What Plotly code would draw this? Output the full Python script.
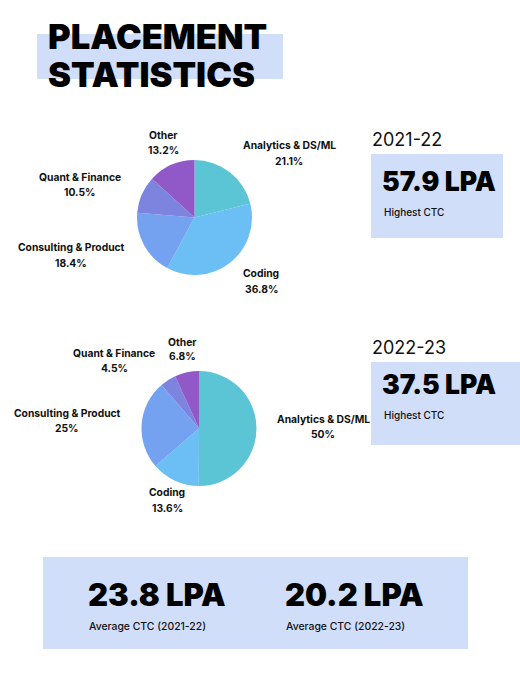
import plotly.graph_objects as go

W, H = 520, 700

# ---------------- data ----------------
categories = ["Analytics & DS/ML", "Coding", "Consulting & Product", "Quant & Finance", "Other"]
share_2021_22 = [21.1, 36.8, 18.4, 10.5, 13.2]
share_2022_23 = [50, 13.6, 25, 4.5, 6.8]
years = ["2021-22", "2022-23"]
highest_ctc = [57.9, 37.5]
average_ctc = [23.8, 20.2]
title_lines = ["PLACEMENT", "STATISTICS"]

# ---------------- style ----------------
slice_colors = ["#5bc5d6", "#6bbff5", "#74a2f0", "#7c84df", "#9159c7"]
box_color = "#d1defa"
FONT = "Inter, 'Open Sans', sans-serif"


def fx(x):
    return x / W


def fy(y):
    return 1 - y / H


fig = go.Figure()

# pie geometry (pixel centre, radius)
pies = [
    dict(values=share_2021_22, cx=194.5, cy=217.5, r=57.5,
         label_pos=[(289, 153), (261, 281), (71, 255), (80, 184), (163, 143)]),
    dict(values=share_2022_23, cx=199, cy=428.5, r=57.5,
         label_pos=[(323, 427), (167, 500), (67, 421), (114, 360), (182, 349)]),
]

annotations = []
shapes = []

for p in pies:
    fig.add_trace(go.Pie(
        labels=categories,
        values=p["values"],
        sort=False,
        direction="clockwise",
        rotation=0,
        textinfo="none",
        marker=dict(colors=slice_colors, line=dict(width=0)),
        domain=dict(x=[fx(p["cx"] - p["r"]), fx(p["cx"] + p["r"])],
                    y=[fy(p["cy"] + p["r"]), fy(p["cy"] - p["r"])]),
        showlegend=False,
        hovertemplate="%{label}: %{value}%<extra></extra>",
    ))
    for cat, val, (lx, ly) in zip(categories, p["values"], p["label_pos"]):
        for txt, dy in ((cat, -7.5), (f"{val:g}%", 7.5)):
            annotations.append(dict(
                x=fx(lx), y=fy(ly + dy), xref="paper", yref="paper",
                text=txt, showarrow=False,
                xanchor="center", yanchor="middle", align="center",
                font=dict(family=FONT, size=10.3, color="#111111", weight=700),
            ))

# title highlight and text
shapes.append(dict(type="rect", xref="paper", yref="paper", layer="below",
                   x0=fx(37), x1=fx(283), y0=fy(79), y1=fy(34),
                   fillcolor=box_color, line=dict(width=0)))
for txt, yc in zip(title_lines, [37, 74]):
    annotations.append(dict(
        x=fx(46), y=fy(yc), xref="paper", yref="paper", text=txt,
        showarrow=False, xanchor="left", yanchor="middle",
        font=dict(family=FONT, size=34.5, color="#000000", weight=900),
    ))

# highest CTC boxes
boxes = [
    dict(x0=371, x1=503, y0=154, y1=238, year_y=140, val_y=181, lab_y=212),
    dict(x0=371, x1=520, y0=362, y1=445, year_y=347, val_y=384, lab_y=415),
]
for b, yr, val in zip(boxes, years, highest_ctc):
    shapes.append(dict(type="rect", xref="paper", yref="paper", layer="below",
                       x0=fx(b["x0"]), x1=fx(b["x1"]), y0=fy(b["y1"]), y1=fy(b["y0"]),
                       fillcolor=box_color, line=dict(width=0)))
    annotations.append(dict(
        x=fx(370), y=fy(b["year_y"]), xref="paper", yref="paper", text=yr,
        showarrow=False, xanchor="left", yanchor="middle",
        font=dict(family=FONT, size=18, color="#111111", weight=400)))
    annotations.append(dict(
        x=fx(380), y=fy(b["val_y"]), xref="paper", yref="paper", text=f"{val} LPA",
        showarrow=False, xanchor="left", yanchor="middle",
        font=dict(family=FONT, size=26.5, color="#000000", weight=900)))
    annotations.append(dict(
        x=fx(382), y=fy(b["lab_y"]), xref="paper", yref="paper", text="Highest CTC",
        showarrow=False, xanchor="left", yanchor="middle",
        font=dict(family=FONT, size=10, color="#111111", weight=500)))

# average CTC box
shapes.append(dict(type="rect", xref="paper", yref="paper", layer="below",
                   x0=fx(43), x1=fx(468), y0=fy(649), y1=fy(557),
                   fillcolor=box_color, line=dict(width=0)))
for xl, yr, val in zip([86, 283], years, average_ctc):
    annotations.append(dict(
        x=fx(xl), y=fy(594), xref="paper", yref="paper", text=f"{val} LPA",
        showarrow=False, xanchor="left", yanchor="middle",
        font=dict(family=FONT, size=31, color="#000000", weight=900)))
    annotations.append(dict(
        x=fx(xl + 1), y=fy(626), xref="paper", yref="paper", text=f"Average CTC ({yr})",
        showarrow=False, xanchor="left", yanchor="middle",
        font=dict(family=FONT, size=10.4, color="#111111", weight=500)))

fig.update_layout(
    width=W, height=H,
    margin=dict(l=0, r=0, t=0, b=0),
    paper_bgcolor="#ffffff", plot_bgcolor="#ffffff",
    shapes=shapes, annotations=annotations,
)

fig.write_html(
    "out.html",
    config={"displayModeBar": False},
    post_script="document.body.style.margin='0';document.body.style.overflow='hidden';",
)
